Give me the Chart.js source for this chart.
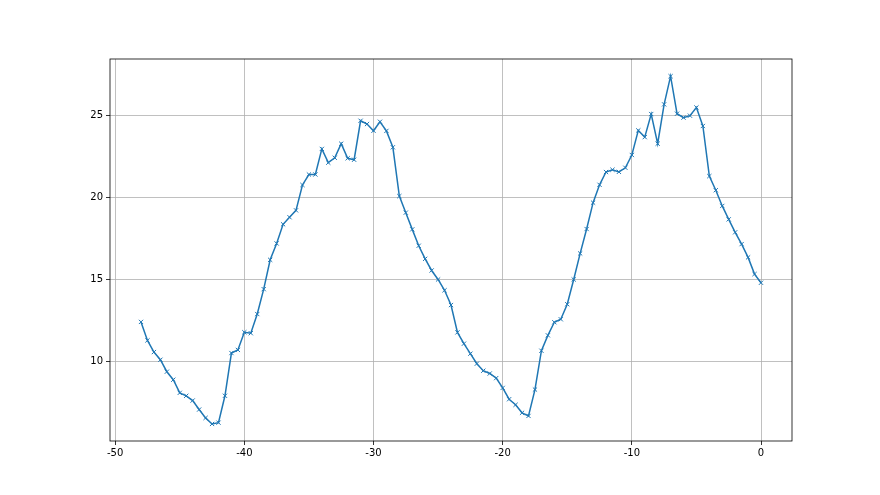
<!DOCTYPE html>
<html>
<head>
<meta charset="utf-8">
<script src="https://cdn.jsdelivr.net/npm/chart.js@4"></script>
<style>
  html, body { margin: 0; padding: 0; background: #fff; }
  #chart { display: block; }
</style>
</head>
<body>
<canvas id="chart" width="880" height="495"></canvas>
<script>
// x positions (step 0.5 from -48 to 0)
const xValues = [
    -48, -47.5, -47, -46.5, -46, -45.5, -45, -44.5, -44, -43.5,
    -43, -42.5, -42, -41.5, -41, -40.5, -40, -39.5, -39, -38.5,
    -38, -37.5, -37, -36.5, -36, -35.5, -35, -34.5, -34, -33.5,
    -33, -32.5, -32, -31.5, -31, -30.5, -30, -29.5, -29, -28.5,
    -28, -27.5, -27, -26.5, -26, -25.5, -25, -24.5, -24, -23.5,
    -23, -22.5, -22, -21.5, -21, -20.5, -20, -19.5, -19, -18.5,
    -18, -17.5, -17, -16.5, -16, -15.5, -15, -14.5, -14, -13.5,
    -13, -12.5, -12, -11.5, -11, -10.5, -10, -9.5, -9, -8.5,
    -8, -7.5, -7, -6.5, -6, -5.5, -5, -4.5, -4, -3.5,
    -3, -2.5, -2, -1.5, -1, -0.5, 0
];
const yValues = [
    12.41, 11.28, 10.57, 10.1, 9.37, 8.88, 8.08, 7.9, 7.61, 7.06,
    6.55, 6.18, 6.26, 7.9, 10.51, 10.7, 11.78, 11.72, 12.89, 14.41,
    16.2, 17.2, 18.37, 18.8, 19.22, 20.77, 21.41, 21.41, 22.97, 22.13,
    22.43, 23.29, 22.4, 22.31, 24.69, 24.49, 24.08, 24.63, 24.07, 23.07,
    20.09, 19.08, 18.06, 17.06, 16.26, 15.55, 15.0, 14.34, 13.44, 11.77,
    11.08, 10.47, 9.86, 9.43, 9.26, 8.98, 8.38, 7.69, 7.35, 6.86,
    6.67, 8.28, 10.65, 11.59, 12.39, 12.57, 13.49, 15.0, 16.59, 18.08,
    19.69, 20.78, 21.56, 21.7, 21.57, 21.82, 22.6, 24.1, 23.69, 25.1,
    23.29, 25.69, 27.41, 25.12, 24.88, 25.0, 25.5, 24.37, 21.31, 20.45,
    19.49, 18.67, 17.88, 17.16, 16.35, 15.33, 14.8
];
const xTicks = [-50, -40, -30, -20, -10, 0];
const yTicks = [10, 15, 20, 25];

// matplotlib style box around the axes
const frame = {
    id: 'frame',
    afterDraw(chart) {
        const { ctx, chartArea: a } = chart;
        ctx.save();
        ctx.strokeStyle = '#000';
        ctx.lineWidth = 0.8;
        ctx.strokeRect(a.left, a.top, a.right - a.left, a.bottom - a.top);
        ctx.restore();
    }
};

const points = xValues.map((x, i) => ({ x: x, y: yValues[i] }));
const tickFont = { family: 'DejaVu Sans', size: 10 };

new Chart(document.getElementById('chart'), {
    type: 'scatter',
    data: {
        datasets: [{
            data: points,
            showLine: true,
            borderColor: '#1f77b4',
            backgroundColor: '#1f77b4',
            borderWidth: 1.5,
            pointStyle: 'crossRot',
            pointRadius: 3,
            pointBorderWidth: 1,
            pointHoverRadius: 3,
            tension: 0
        }]
    },
    options: {
        responsive: false,
        animation: false,
        layout: { padding: { top: 59, right: 88, left: 0, bottom: 0 } },
        plugins: { legend: { display: false }, tooltip: { enabled: false } },
        scales: {
            x: {
                type: 'linear',
                min: -50.4,
                max: 2.4,
                afterBuildTicks: axis => { axis.ticks = xTicks.map(v => ({ value: v })); },
                afterFit: axis => { axis.height = 54; },
                grid: { color: '#b0b0b0', lineWidth: 0.8, tickLength: 4, tickColor: '#000' },
                border: { display: false },
                ticks: { font: tickFont, color: '#000', padding: 2, maxRotation: 0, autoSkip: false }
            },
            y: {
                type: 'linear',
                min: 5.14,
                max: 28.46,
                afterBuildTicks: axis => { axis.ticks = yTicks.map(v => ({ value: v })); },
                afterFit: axis => { axis.width = 110; },
                grid: { color: '#b0b0b0', lineWidth: 0.8, tickLength: 4, tickColor: '#000' },
                border: { display: false },
                ticks: { font: tickFont, color: '#000', padding: 3, autoSkip: false }
            }
        }
    },
    plugins: [frame]
});
</script>
</body>
</html>
